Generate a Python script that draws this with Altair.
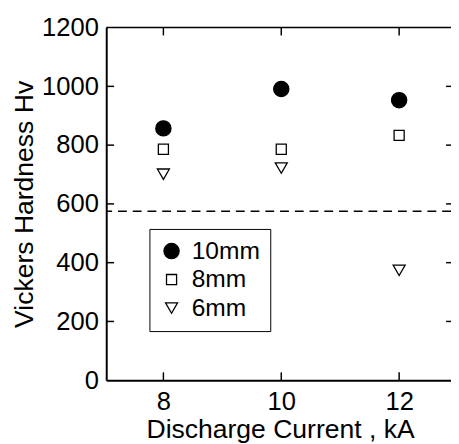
import altair as alt
import pandas as pd

# ---- data ----
current = [8, 10, 12]
hv_10mm = [857, 991, 953]
hv_8mm = [786, 786, 833]
hv_6mm = [701, 722, 374]
series_names = ["10mm", "8mm", "6mm"]
threshold_hv = [575]
x_ticks = [8, 10, 12]
y_ticks = [0, 200, 400, 600, 800, 1000, 1200]
inner_y_ticks = [200, 400, 600, 800, 1000]
x_domain = [7.03, 12.93]
y_domain = [0, 1200]

FONT = "Liberation Sans"
LFS = 26
TFS = 27

rows = []
for name, vals in zip(series_names, [hv_10mm, hv_8mm, hv_6mm]):
    for c, v in zip(current, vals):
        rows.append({"current": c, "hv": v, "series": name})
df = pd.DataFrame(rows)

x_scale = alt.Scale(domain=x_domain, range=[0, 354], nice=False, zero=False)
y_scale = alt.Scale(domain=y_domain, nice=False, zero=False)

x_axis = alt.Axis(
    values=x_ticks, title="Discharge Current , kA", ticks=False, grid=False,
    format="d", domainColor="black", domainWidth=2, labelFont=FONT, labelFontSize=LFS,
    labelColor="black", labelPadding=9, titleFont=FONT, titleFontSize=TFS,
    titleFontWeight="normal", titleColor="black", titlePadding=2)
y_axis = alt.Axis(
    values=y_ticks, title="Vickers Hardness Hv", ticks=False, grid=False,
    format="d", domainColor="black", domainWidth=2, labelFont=FONT, labelFontSize=LFS,
    labelColor="black", labelPadding=8, titleFont=FONT, titleFontSize=TFS,
    titleFontWeight="normal", titleColor="black", titlePadding=3)

legend = alt.Legend(
    title=None, orient="none", legendX=44, legendY=205,
    strokeColor="black", padding=10, labelFont=FONT, labelFontSize=25,
    labelColor="black", labelOffset=8, rowPadding=3,
    symbolStrokeColor="black", symbolStrokeWidth=1.3,
    labelExpr="datum.label == '10mm' ? datum.label : '\u00a0\u00a0' + datum.label",
)

points = alt.Chart(df).mark_point(stroke="black", strokeWidth=1.3, opacity=1).encode(
    x=alt.X("current:Q", scale=x_scale, axis=x_axis),
    y=alt.Y("hv:Q", scale=y_scale, axis=y_axis),
    shape=alt.Shape("series:N", scale=alt.Scale(domain=series_names,
                    range=["circle", "square", "triangle-down"]), legend=legend),
    fill=alt.Fill("series:N", scale=alt.Scale(domain=series_names,
                  range=["black", "white", "white"]), legend=legend),
    stroke=alt.Stroke("series:N", scale=alt.Scale(domain=series_names,
                      range=["black", "black", "black"]), legend=legend),
    size=alt.Size("series:N", scale=alt.Scale(type="ordinal", domain=series_names,
                  range=[240, 105, 150]), legend=legend),
)

dash = alt.Chart(pd.DataFrame({"hv": threshold_hv})).mark_rule(
    color="black", strokeWidth=1.5, strokeDash=[9, 6]).encode(
    y=alt.Y("hv:Q", scale=y_scale, axis=y_axis))

top_frame = alt.Chart(pd.DataFrame({"hv": [y_domain[1]]})).mark_rule(
    color="black", strokeWidth=1.5).encode(
    y=alt.Y("hv:Q", scale=y_scale, axis=y_axis))

tick_dx = 8 / 60.0
tick_dy = 8 * 1200 / 359.0
left_ticks = pd.DataFrame({"hv": inner_y_ticks,
                           "current": [x_domain[0]] * 5, "x1": [x_domain[0] + tick_dx] * 5})
right_ticks = pd.DataFrame({"hv": inner_y_ticks,
                            "current": [x_domain[1] - tick_dx] * 5, "x1": [x_domain[1]] * 5})
bottom_ticks = pd.DataFrame({"current": x_ticks, "hv": [0] * 3, "y1": [tick_dy] * 3})
top_ticks = pd.DataFrame({"current": x_ticks, "hv": [1200 - tick_dy] * 3, "y1": [1200] * 3})

def hticks(d):
    return alt.Chart(d).mark_rule(color="black", strokeWidth=1.5).encode(
        x=alt.X("current:Q", scale=x_scale, axis=x_axis), x2="x1:Q",
        y=alt.Y("hv:Q", scale=y_scale, axis=y_axis))

def vticks(d):
    return alt.Chart(d).mark_rule(color="black", strokeWidth=1.5).encode(
        x=alt.X("current:Q", scale=x_scale, axis=x_axis),
        y=alt.Y("hv:Q", scale=y_scale, axis=y_axis), y2="y1:Q")

chart = alt.layer(
    points, dash, top_frame,
    hticks(left_ticks), hticks(right_ticks), vticks(bottom_ticks), vticks(top_ticks),
).properties(
    width=351, height=359,
    autosize=alt.AutoSizeParams(type="none"),
    padding={"left": 100, "top": 16, "right": 0, "bottom": 61},
    background="white",
).configure_view(stroke=None)

chart.save("out.html", embed_options={"renderer": "svg", "actions": False})
